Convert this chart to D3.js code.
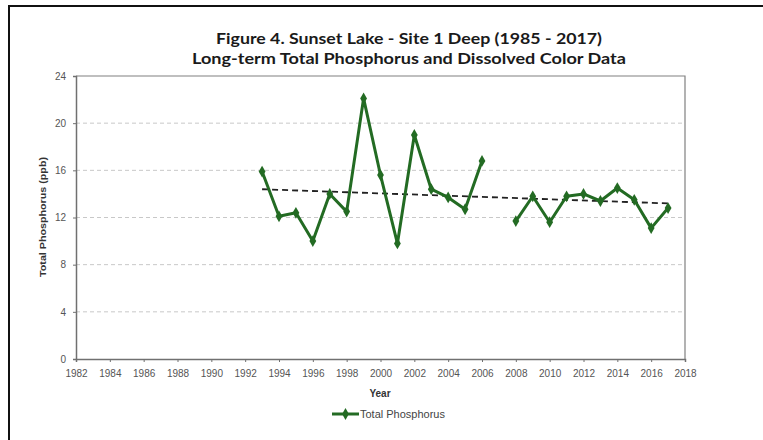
<!DOCTYPE html>
<html><head><meta charset="utf-8">
<script src="https://cdn.jsdelivr.net/npm/d3@7"></script>
<style>body{margin:0;background:#fff}svg{display:block}</style>
</head><body>
<svg id="c" width="763" height="440"></svg>
<script>
const titleLines = ["Figure 4. Sunset Lake - Site 1 Deep (1985 - 2017)", "Long-term Total Phosphorus and Dissolved Color Data"];
const years = [1993,1994,1995,1996,1997,1998,1999,2000,2001,2002,2003,2004,2005,2006,2007,2008,2009,2010,2011,2012,2013,2014,2015,2016,2017];
const phosphorus = [15.9,12.1,12.4,10.0,14.0,12.5,22.1,15.6,9.8,19.0,14.4,13.7,12.7,16.8,null,11.7,13.8,11.6,13.8,14.0,13.4,14.5,13.5,11.1,12.8];
const xTicks = d3.range(1982, 2019, 2);
const yTicks = [0,4,8,12,16,20,24];
const seriesName = "Total Phosphorus";
const xLabel = "Year", yLabel = "Total Phosphorus (ppb)";

const svg = d3.select("#c");
const M = {l:76, r:685, t:76, b:359};
const x = d3.scaleLinear().domain([1982,2018]).range([M.l, M.r]);
const y = d3.scaleLinear().domain([0,24]).range([M.b, M.t]);
const green = "#236b23";

// outer frame
svg.append("path").attr("d", `M9,441 L9,6 L770,6`).attr("fill","none").attr("stroke","#111").attr("stroke-width",2);

// title
titleLines.forEach((t,i)=>{
  svg.append("text").attr("x",409).attr("y",44+i*20).attr("text-anchor","middle")
    .attr("font-family","Lato, 'Open Sans', sans-serif").attr("font-weight","bold").attr("font-size",15.5)
    .attr("fill","#1a1a1a").attr("textLength", i===0?386:434).attr("lengthAdjust","spacingAndGlyphs").text(t);
});

// gridlines
svg.append("g").selectAll("line").data(yTicks.filter(v=>v>0 && v<24)).join("line")
  .attr("x1",M.l).attr("x2",M.r).attr("y1",d=>y(d)).attr("y2",d=>y(d))
  .attr("stroke","#c8c8c8").attr("stroke-width",1).attr("stroke-dasharray","4,3");

// frame of plot
svg.append("path").attr("d",`M${M.l},${M.t} L${M.r},${M.t} L${M.r},${M.b}`).attr("fill","none").attr("stroke","#808080").attr("stroke-width",1.2);

// axes
const xAxis = svg.append("g").attr("transform",`translate(0,${M.b})`)
  .call(d3.axisBottom(x).tickValues(xTicks).tickFormat(d3.format("d")).tickSize(3).tickPadding(6));
const yAxis = svg.append("g").attr("transform",`translate(${M.l},0)`)
  .call(d3.axisLeft(y).tickValues(yTicks).tickSize(3).tickPadding(7));
[xAxis,yAxis].forEach(a=>{
  a.select(".domain").attr("stroke","#707070").attr("stroke-width",1.5);
  a.selectAll(".tick line").attr("stroke","#707070");
  a.selectAll("text").attr("font-family","'Liberation Sans', Arial, sans-serif").attr("font-size",10).attr("fill","#555");
});
xAxis.selectAll(".tick text").attr("dy","0.9em");

// axis titles
svg.append("text").attr("x",380).attr("y",397).attr("text-anchor","middle")
  .attr("font-family","'Liberation Sans', Arial, sans-serif").attr("font-weight","bold").attr("font-size",10).attr("fill","#333").text(xLabel);
svg.append("text").attr("transform","translate(46,217) rotate(-90)").attr("text-anchor","middle")
  .attr("font-family","'Liberation Sans', Arial, sans-serif").attr("font-weight","bold").attr("font-size",9.5).attr("fill","#333")
  .attr("textLength",120).attr("lengthAdjust","spacingAndGlyphs").text(yLabel);

// trendline (least squares on data)
const pts = years.map((yr,i)=>({yr, v:phosphorus[i]})).filter(d=>d.v!=null);
const mx = d3.mean(pts,d=>d.yr), my = d3.mean(pts,d=>d.v);
const slope = d3.sum(pts,d=>(d.yr-mx)*(d.v-my))/d3.sum(pts,d=>(d.yr-mx)**2);
const t0 = d3.min(pts,d=>d.yr), t1 = d3.max(pts,d=>d.yr);
svg.append("line").attr("x1",x(t0)).attr("x2",x(t1))
  .attr("y1",y(my+slope*(t0-mx))).attr("y2",y(my+slope*(t1-mx)))
  .attr("stroke","#222").attr("stroke-width",1.8).attr("stroke-dasharray","6,4");

// series line
const line = d3.line().defined(d=>d.v!=null).x(d=>x(d.yr)).y(d=>y(d.v));
const all = years.map((yr,i)=>({yr, v:phosphorus[i]}));
svg.append("path").datum(all).attr("d",line).attr("fill","none").attr("stroke",green).attr("stroke-width",3).attr("stroke-linejoin","round");
const diamond = d3.symbol().type(d3.symbolDiamond).size(40);
svg.append("g").selectAll("path").data(pts).join("path")
  .attr("transform",d=>`translate(${x(d.yr)},${y(d.v)})`).attr("d",diamond).attr("fill",green);

// legend
svg.append("line").attr("x1",332).attr("x2",359).attr("y1",414).attr("y2",414).attr("stroke",green).attr("stroke-width",3);
svg.append("path").attr("transform","translate(345.5,414)").attr("d",diamond).attr("fill",green);
svg.append("text").attr("x",360).attr("y",418).attr("font-family","'Liberation Sans', Arial, sans-serif").attr("font-size",10).attr("fill","#444")
  .attr("textLength",85).attr("lengthAdjust","spacingAndGlyphs").text(seriesName);
</script>
</body></html>
